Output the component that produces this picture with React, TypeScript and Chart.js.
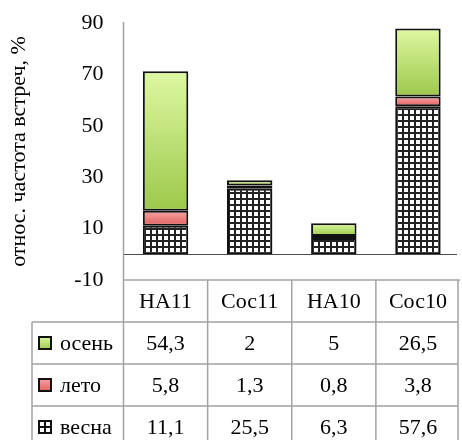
import { useEffect, useRef } from "react";
import { Chart, registerables } from "chart.js";

Chart.register(...registerables);

// Categories and per-season shares (%)
const categories = ["НА11", "Сос11", "НА10", "Сос10"];
const springValues = [11.1, 25.5, 6.3, 57.6];
const summerValues = [5.8, 1.3, 0.8, 3.8];
const autumnValues = [54.3, 2, 5, 26.5];
const seriesLabels = ["весна", "лето", "осень"];
const yMin = -10;
const yMax = 90;
const yStep = 20;
const yTitle = "относ. частота встреч, %";

const FONT = '"Liberation Serif", "Times New Roman", serif';
const stacks = [springValues, summerValues, autumnValues];

const GREEN: [string, string] = ["#def8a2", "#9cc84a"];
const RED: [string, string] = ["#f7a6a6", "#e25e5e"];

function makeGridPattern(ctx: CanvasRenderingContext2D): CanvasPattern | string {
  const c = document.createElement("canvas");
  c.width = 6;
  c.height = 6;
  const g = c.getContext("2d");
  if (!g) return "#888";
  g.fillStyle = "#ffffff";
  g.fillRect(0, 0, 6, 6);
  g.fillStyle = "#222222";
  g.fillRect(0, 0, 6, 2);
  g.fillRect(0, 0, 2, 6);
  return ctx.createPattern(c, "repeat") || "#888";
}

function segmentGradient(stops: [string, string], dsIndex: number) {
  return (ctx: any) => {
    const chart = ctx.chart;
    const y = chart.scales?.y;
    const i = ctx.dataIndex;
    if (!y || !chart.chartArea || i === undefined) return stops[1];
    let base = 0;
    for (let k = 0; k < dsIndex; k++) base += stacks[k][i];
    const top = base + stacks[dsIndex][i];
    const y0 = y.getPixelForValue(top);
    const y1 = y.getPixelForValue(base);
    const g = chart.ctx.createLinearGradient(0, y0, 0, y1);
    g.addColorStop(0, stops[0]);
    g.addColorStop(1, stops[1]);
    return g;
  };
}

const fmt = (v: number) => String(v).replace(".", ",");

const tablePlugin = {
  id: "seasonTable",
  beforeDatasetsDraw(chart: any) {
    const { ctx, chartArea: ca, scales } = chart;
    const y0 = Math.round(scales.y.getPixelForValue(0)) + 0.5;
    ctx.save();
    ctx.strokeStyle = "#4a4a4a";
    ctx.lineWidth = 1.2;
    ctx.beginPath();
    ctx.moveTo(ca.left, y0);
    ctx.lineTo(ca.right - 3, y0);
    ctx.stroke();
    ctx.restore();
  },
  afterDraw(chart: any) {
    const { ctx, chartArea: ca, scales, height } = chart;
    const x = scales.x;
    const left = ca.left;
    const right = ca.right;
    const top = ca.bottom;
    const rowH = 42;
    const labelLeft = 32;
    const n = categories.length;

    const centers = categories.map((_, i) => x.getPixelForValue(i));
    const bounds: number[] = [left];
    for (let i = 1; i < n; i++) bounds.push((centers[i - 1] + centers[i]) / 2);
    bounds.push(right - 2);

    ctx.save();
    ctx.strokeStyle = "#a3a3a3";
    ctx.lineWidth = 1.5;
    ctx.beginPath();
    // value axis, continued down through the table
    ctx.moveTo(left, ca.top - 1);
    ctx.lineTo(left, height);
    // column dividers
    for (let i = 1; i < bounds.length; i++) {
      ctx.moveTo(bounds[i], top);
      ctx.lineTo(bounds[i], height);
    }
    // header top
    ctx.moveTo(left, top);
    ctx.lineTo(right, top);
    // row separators
    for (let r = 0; r < 3; r++) {
      const yy = top + rowH * (r + 1);
      ctx.moveTo(labelLeft, yy);
      ctx.lineTo(bounds[bounds.length - 1], yy);
    }
    // label column left edge
    ctx.moveTo(labelLeft, top + rowH);
    ctx.lineTo(labelLeft, height);
    ctx.stroke();

    ctx.fillStyle = "#000";
    ctx.font = `22px ${FONT}`;
    ctx.textAlign = "center";
    ctx.textBaseline = "middle";
    categories.forEach((c, i) => ctx.fillText(c, centers[i], top + rowH / 2 + 1));

    // rows: autumn, summer, spring
    const rows = [2, 1, 0];
    rows.forEach((dsIdx, r) => {
      const cy = top + rowH * (r + 1) + rowH / 2 + 1;
      ctx.textAlign = "center";
      ctx.fillStyle = "#000";
      stacks[dsIdx].forEach((v, i) => ctx.fillText(fmt(v), centers[i], cy));
      ctx.textAlign = "left";
      ctx.fillText(seriesLabels[dsIdx], 60, cy);

      // legend key
      const bx = 38;
      const by = Math.round(cy - 8);
      const s = 14;
      if (dsIdx === 0) {
        ctx.fillStyle = "#111";
        ctx.fillRect(bx, by, s, s);
        ctx.fillStyle = "#fff";
        ctx.fillRect(bx + 2, by + 2, 4, 4);
        ctx.fillRect(bx + 8, by + 2, 4, 4);
        ctx.fillRect(bx + 2, by + 8, 4, 4);
        ctx.fillRect(bx + 8, by + 8, 4, 4);
      } else {
        const stops = dsIdx === 2 ? GREEN : RED;
        const g = ctx.createLinearGradient(0, by, 0, by + s);
        g.addColorStop(0, stops[0]);
        g.addColorStop(1, stops[1]);
        ctx.fillStyle = g;
        ctx.fillRect(bx, by, s, s);
        ctx.strokeStyle = "#111";
        ctx.lineWidth = 2;
        ctx.strokeRect(bx + 1, by + 1, s - 2, s - 2);
      }
    });
    ctx.restore();
  },
};

export default function App() {
  const canvasRef = useRef<HTMLCanvasElement | null>(null);

  useEffect(() => {
    const canvas = canvasRef.current;
    if (!canvas) return;
    const c2d = canvas.getContext("2d");
    if (!c2d) return;
    const gridPattern = makeGridPattern(c2d);

    const common = {
      borderColor: "#111111",
      borderWidth: 2,
      borderSkipped: false as const,
      categoryPercentage: 1,
      barPercentage: 0.54,
    };

    const chart = new Chart(canvas, {
      type: "bar",
      data: {
        labels: categories,
        datasets: [
          { label: seriesLabels[0], data: springValues, backgroundColor: gridPattern as any, ...common },
          { label: seriesLabels[1], data: summerValues, backgroundColor: segmentGradient(RED, 1) as any, ...common },
          { label: seriesLabels[2], data: autumnValues, backgroundColor: segmentGradient(GREEN, 2) as any, ...common },
        ],
      },
      options: {
        responsive: false,
        animation: false,
        devicePixelRatio: 1,
        layout: { padding: { left: 0, top: 23, right: 2, bottom: 160 } },
        plugins: {
          legend: { display: false },
          tooltip: { enabled: false },
        },
        scales: {
          x: {
            stacked: true,
            display: false,
          },
          y: {
            stacked: true,
            min: yMin,
            max: yMax,
            grid: { display: false, drawTicks: false },
            border: { display: false },
            ticks: {
              stepSize: yStep,
              color: "#000",
              padding: 20,
              font: { family: FONT, size: 22 },
            },
            title: {
              display: true,
              text: yTitle,
              color: "#000",
              font: { family: FONT, size: 22 },
              padding: { top: 6, bottom: 0 },
            },
            afterFit: (scale: any) => {
              scale.width = 123.5;
              scale.paddingTop = 0;
              scale.paddingBottom = 0;
            },
          },
        },
      },
      plugins: [tablePlugin],
    });

    return () => chart.destroy();
  }, []);

  return (
    <div style={{ position: "fixed", left: 0, top: 0, width: 462, height: 440, background: "#fff" }}>
      <canvas ref={canvasRef} width={462} height={440} style={{ display: "block", width: 462, height: 440 }} />
    </div>
  );
}
